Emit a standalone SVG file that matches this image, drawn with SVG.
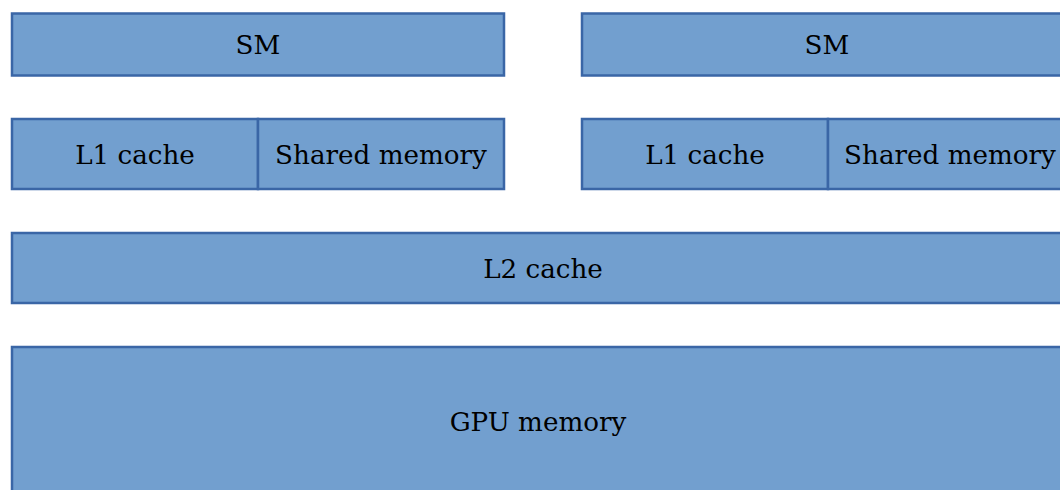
<svg xmlns="http://www.w3.org/2000/svg" width="1060" height="490" viewBox="0 0 1060 490">
  <style>
    .box { fill: #729fcf; stroke: #3a66a6; stroke-width: 2.5; }
    .lbl { font-family: "DejaVu Serif", "Liberation Serif", serif; font-size: 26.2px; fill: #000; text-anchor: middle; }
  </style>
  <rect width="1060" height="490" fill="#ffffff"/>
  <g id="sm-left">
    <rect class="box" x="12" y="13.5" width="492" height="62"/>
    <text class="lbl" x="258" y="54">SM</text>
  </g>
  <g id="sm-right">
    <rect class="box" x="582" y="13.5" width="490" height="62"/>
    <text class="lbl" x="827" y="54">SM</text>
  </g>
  <g id="l1-left">
    <rect class="box" x="12" y="119" width="246" height="70"/>
    <text class="lbl" x="135" y="164">L1 cache</text>
  </g>
  <g id="shared-left">
    <rect class="box" x="258" y="119" width="246" height="70"/>
    <text class="lbl" x="381" y="164">Shared memory</text>
  </g>
  <g id="l1-right">
    <rect class="box" x="582" y="119" width="246" height="70"/>
    <text class="lbl" x="705" y="164">L1 cache</text>
  </g>
  <g id="shared-right">
    <rect class="box" x="828" y="119" width="246" height="70"/>
    <text class="lbl" x="950" y="164">Shared memory</text>
  </g>
  <g id="l2">
    <rect class="box" x="12" y="233" width="1062" height="70"/>
    <text class="lbl" x="543" y="278">L2 cache</text>
  </g>
  <g id="gpu-memory">
    <rect class="box" x="12" y="347" width="1062" height="160"/>
    <text class="lbl" x="538" y="431">GPU memory</text>
  </g>
  <g id="connectors"></g>
</svg>
